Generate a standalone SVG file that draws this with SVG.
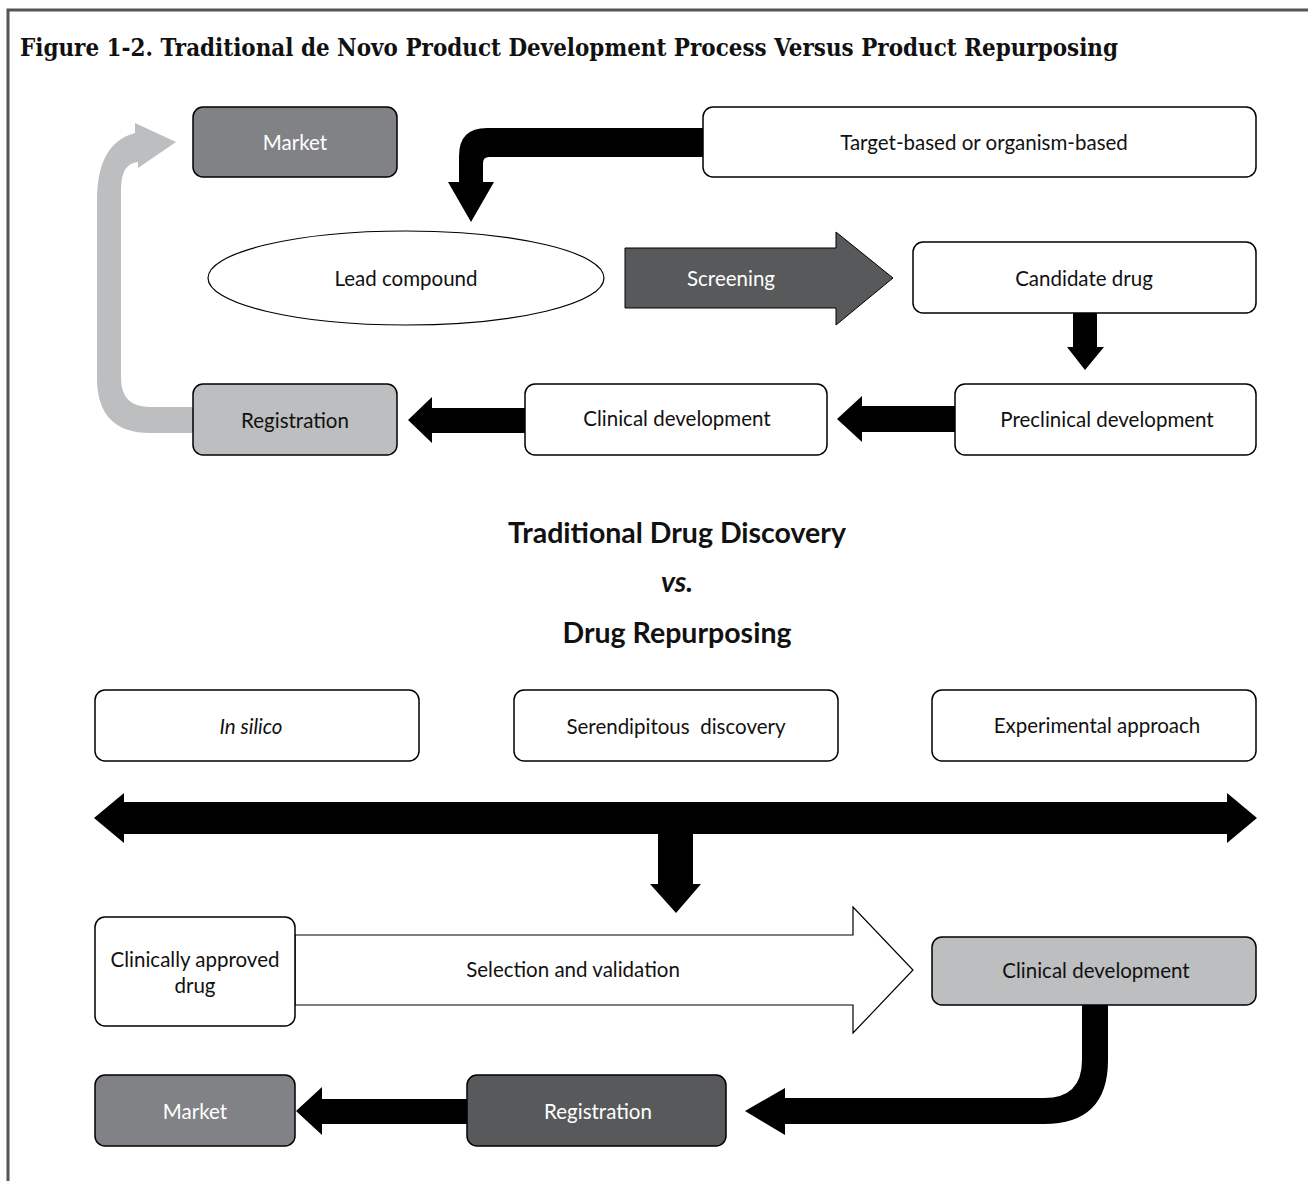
<svg xmlns="http://www.w3.org/2000/svg" width="1308" height="1181" viewBox="0 0 1308 1181">
<style>
.box{stroke:#000;stroke-width:1.5}
.w{fill:#fff}
.g1{fill:#808285}
.g2{fill:#58595b}
.g3{fill:#bcbec0}
.t{font-family:Lato,"Open Sans","Liberation Sans",sans-serif;font-size:20.5px;text-anchor:middle;dominant-baseline:central;fill:#111}
.tw{fill:#fff}
.h{font-family:Lato,"Liberation Sans",sans-serif;font-weight:bold;font-size:28.5px;text-anchor:middle;fill:#111}
.blk{fill:#000}
</style>
<rect width="1308" height="1181" fill="#fff"/>
<path d="M8 1181 V10 H1308" fill="none" stroke="#555" stroke-width="3"/>
<text x="20" y="56" font-family="'DejaVu Serif',serif" font-weight="bold" font-size="25" textLength="1098" lengthAdjust="spacingAndGlyphs" fill="#111">Figure 1-2. Traditional de Novo Product Development Process Versus Product Repurposing</text>

<g id="connectors">
  <path id="c-gray-loop" class="g3" d="M193 407 L150 407 Q121 407 121 378 L121 190 Q121 163 138 162 L138 168 L176 142 L135 123 L135 133 Q97 143 97 200 L97 378 Q97 433 150 433 L193 433 Z"/>
  <path id="c-target-lead" class="blk" d="M710 128 L487 128 Q459 128 459 156 L459 182 L448 182 L471 222 L494 182 L483 182 L483 163 Q483 157 489 157 L710 157 Z"/>
  <path id="c-cand-pre" class="blk" d="M1073 313 L1097 313 L1097 347 L1104 347 L1085 370 L1067 347 L1073 347 Z"/>
  <path id="c-pre-clin" class="blk" d="M955 406 L862 406 L862 396 L837 419 L862 442 L862 432 L955 432 Z"/>
  <path id="c-clin-reg" class="blk" d="M525 408 L432 408 L432 397 L408 420 L432 443 L432 433 L525 433 Z"/>
  <path id="c-approaches" class="blk" d="M94 818 L124 793 L124 802 L1227 802 L1227 793 L1257 818 L1227 843 L1227 834 L693 834 L693 884 L701 884 L676 913 L650 884 L658 884 L658 834 L124 834 L124 843 Z"/>
  <path id="c-clin2-reg2" class="blk" d="M1082 1005 L1082 1060 Q1082 1098 1044 1098 L785 1098 L785 1088 L745 1111 L785 1135 L785 1124 L1044 1124 Q1108 1124 1108 1060 L1108 1005 Z"/>
  <path id="c-reg2-market2" class="blk" d="M467 1099 L322 1099 L322 1087 L296 1111 L322 1135 L322 1124 L467 1124 Z"/>
</g>

<g id="screening">
  <path d="M625 248 L836 248 L836 232 L893 278 L836 325 L836 308 L625 308 Z" fill="#58595b" stroke="#000" stroke-width="1"/>
  <text class="t tw" x="731" y="278">Screening</text>
</g>
<g id="selection">
  <path d="M295 935 L853 935 L853 907 L913 970 L853 1033 L853 1005 L295 1005 Z" fill="#fff" stroke="#000" stroke-width="1.2"/>
  <text class="t" x="573" y="969">Selection and validation</text>
</g>

<g id="market1"><rect class="box g1" x="193" y="107" width="204" height="70" rx="10"/><text class="t tw" x="295" y="142">Market</text></g>
<g id="target"><rect class="box w" x="703" y="107" width="553" height="70" rx="10"/><text class="t" x="984" y="142">Target-based or organism-based</text></g>
<g id="lead"><ellipse cx="406" cy="278" rx="198" ry="47" fill="#fff" stroke="#000" stroke-width="1.2"/><text class="t" x="406" y="278">Lead compound</text></g>
<g id="candidate"><rect class="box w" x="913" y="242" width="343" height="71" rx="10"/><text class="t" x="1084" y="278">Candidate drug</text></g>
<g id="preclinical"><rect class="box w" x="955" y="384" width="301" height="71" rx="10"/><text class="t" x="1107" y="419">Preclinical development</text></g>
<g id="clinical1"><rect class="box w" x="525" y="384" width="302" height="71" rx="10"/><text class="t" x="677" y="418">Clinical development</text></g>
<g id="registration1"><rect class="box g3" x="193" y="384" width="204" height="71" rx="10"/><text class="t" x="295" y="420">Registration</text></g>

<g id="headings">
  <text class="h" x="677" y="543">Traditional Drug Discovery</text>
  <text class="h" x="677" y="592" font-style="italic" font-size="26">vs.</text>
  <text class="h" x="677" y="643">Drug Repurposing</text>
</g>

<g id="insilico"><rect class="box w" x="95" y="690" width="324" height="71" rx="10"/><text class="t" x="251" y="726" font-style="italic">In silico</text></g>
<g id="serendipitous"><rect class="box w" x="514" y="690" width="324" height="71" rx="10"/><text class="t" x="676" y="726" xml:space="preserve" style="white-space:pre">Serendipitous  discovery</text></g>
<g id="experimental"><rect class="box w" x="932" y="690" width="324" height="71" rx="10"/><text class="t" x="1097" y="725">Experimental approach</text></g>

<g id="approved"><rect class="box w" x="95" y="917" width="200" height="109" rx="10"/><text class="t" x="195" y="959">Clinically approved</text><text class="t" x="195" y="985">drug</text></g>
<g id="clinical2"><rect class="box g3" x="932" y="937" width="324" height="68" rx="10"/><text class="t" x="1096" y="970">Clinical development</text></g>
<g id="registration2"><rect class="box g2" x="467" y="1075" width="259" height="71" rx="10"/><text class="t tw" x="598" y="1111">Registration</text></g>
<g id="market2"><rect class="box g1" x="95" y="1075" width="200" height="71" rx="10"/><text class="t tw" x="195" y="1111">Market</text></g>
</svg>
